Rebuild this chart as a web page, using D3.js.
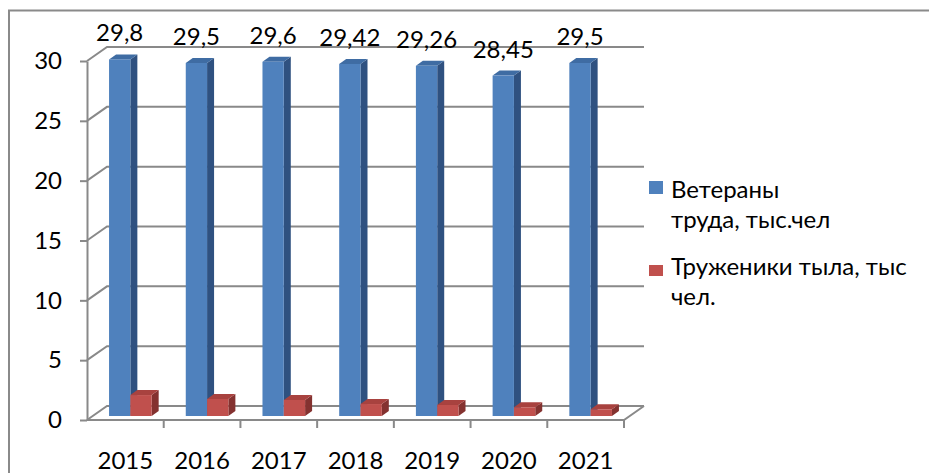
<!DOCTYPE html>
<html>
<head>
<meta charset="utf-8">
<script src="https://cdn.jsdelivr.net/npm/d3@7"></script>
<style>
  body { margin: 0; background: #fff; }
  text { font-family: Lato, "Open Sans", sans-serif; fill: #000; }
</style>
</head>
<body>
<div id="chart"></div>
<script>
var years = ["2015", "2016", "2017", "2018", "2019", "2020", "2021"];
var veterans = [29.8, 29.5, 29.6, 29.42, 29.26, 28.45, 29.5];
var homeFront = [1.75, 1.42, 1.34, 1.0, 0.92, 0.73, 0.56];
var yTicks = [0, 5, 10, 15, 20, 25, 30];
var seriesNames = ["Ветераны труда, тыс.чел", "Труженики тыла, тыс чел."];
var legendLines = [["Ветераны", "труда, тыс.чел"], ["Труженики тыла, тыс", "чел."]];

var width = 929, height = 473,
    fontSize = 24,
    depth = {dx: 20, dy: -14},      // wall depth
    barDepth = {dx: 7, dy: -5},     // bar depth
    barShift = {dx: 5, dy: -4},     // bars sit a little inside the floor
    gridColor = "#898989";

var colors = [
  {front: "#4F81BD", side: "#2F5180", top: "#3F6CA3"},
  {front: "#C0504D", side: "#843230", top: "#A8423F"}
];

var svg = d3.select("#chart").append("svg")
    .attr("width", width)
    .attr("height", height);

// outer frame
svg.append("path")
   .attr("d", "M9,473 L9,10.5 L929,10.5")
   .attr("fill", "none")
   .attr("stroke", "#8a8a8a")
   .attr("stroke-width", 2);

var x0 = d3.scaleBand().domain(years).range([87, 624]);
var x1 = d3.scaleBand().domain([0, 1]).range([0, x0.bandwidth()]).paddingOuter(0.8).paddingInner(0);
var y = d3.scaleLinear().domain([0, 30]).range([420, 61]);

var grid = svg.append("g")
    .attr("fill", "none")
    .attr("stroke", gridColor)
    .attr("stroke-width", 2);

// back wall gridlines + side wall diagonals
yTicks.forEach(function(t) {
  var yy = y(t);
  grid.append("path")
      .attr("d", `M87,${yy} L${87 + depth.dx},${yy + depth.dy} L${624 + depth.dx},${yy + depth.dy}`);
});

// floor front edge and right edge
grid.append("path")
    .attr("d", `M87,${y(0)} L624,${y(0)} L${624 + depth.dx},${y(0) + depth.dy}`);

// category boundary ticks
years.forEach(function(d, i) {
  var xx = x0(d) + x0.bandwidth();
  grid.append("line")
      .attr("x1", xx).attr("x2", xx)
      .attr("y1", y(0)).attr("y2", y(0) + 8);
});

// front y axis
var yAxis = d3.axisLeft(y).tickValues(yTicks).tickSize(7).tickSizeOuter(0).tickPadding(18);
var gy = svg.append("g")
    .attr("transform", "translate(87,0)")
    .call(yAxis);
gy.select(".domain").attr("stroke", gridColor).attr("stroke-width", 2);
gy.selectAll(".tick line").attr("stroke", gridColor).attr("stroke-width", 2);
gy.selectAll("text").style("font-size", fontSize + "px").attr("font-family", null);

// x labels
var xAxis = d3.axisBottom(x0).tickSize(0).tickPadding(32);
var gx = svg.append("g")
    .attr("transform", `translate(0,${y(0)})`)
    .call(xAxis);
gx.select(".domain").remove();
gx.selectAll("text").style("font-size", fontSize + "px").attr("font-family", null);

// 3D bars
function drawBar(g, xLeft, w, v, c) {
  var xl = xLeft + barShift.dx,
      yt = y(v) + barShift.dy,
      yb = y(0) + barShift.dy,
      dx = barDepth.dx, dy = barDepth.dy;
  g.append("path")
   .attr("fill", c.side)
   .attr("d", `M${xl + w},${yt} L${xl + w + dx},${yt + dy} L${xl + w + dx},${yb + dy} L${xl + w},${yb} Z`);
  g.append("path")
   .attr("fill", c.top)
   .attr("d", `M${xl},${yt} L${xl + w},${yt} L${xl + w + dx},${yt + dy} L${xl + dx},${yt + dy} Z`);
  g.append("rect")
   .attr("fill", c.front)
   .attr("x", xl).attr("y", yt)
   .attr("width", w).attr("height", yb - yt);
}

var bars = svg.append("g");
years.forEach(function(d, i) {
  var w = x1.bandwidth();
  drawBar(bars, x0(d) + x1(0), w, veterans[i], colors[0]);
  drawBar(bars, x0(d) + x1(1), w, homeFront[i], colors[1]);
});

// data labels on blue bars
svg.append("g").selectAll("text")
  .data(veterans)
  .enter().append("text")
  .attr("x", (d, i) => x0(years[i]) + x1(0) + barShift.dx + x1.bandwidth() / 2)
  .attr("y", d => y(d) + barShift.dy + barDepth.dy - 13)
  .attr("text-anchor", "middle")
  .style("font-size", fontSize + "px")
  .text(d => String(d).replace(".", ","));

// legend
var legend = svg.append("g");
var legendY = [198, 275];
var keyBox = [{y: 181, h: 13}, {y: 265, h: 11}];
legendLines.forEach(function(lines, i) {
  legend.append("rect")
     .attr("x", 649).attr("y", keyBox[i].y)
     .attr("width", 14).attr("height", keyBox[i].h)
     .attr("fill", colors[i].front);
  lines.forEach(function(t, j) {
    legend.append("text")
       .attr("x", 671)
       .attr("y", legendY[i] + j * 30)
       .style("font-size", fontSize + "px")
       .text(t);
  });
});
</script>
</body>
</html>
